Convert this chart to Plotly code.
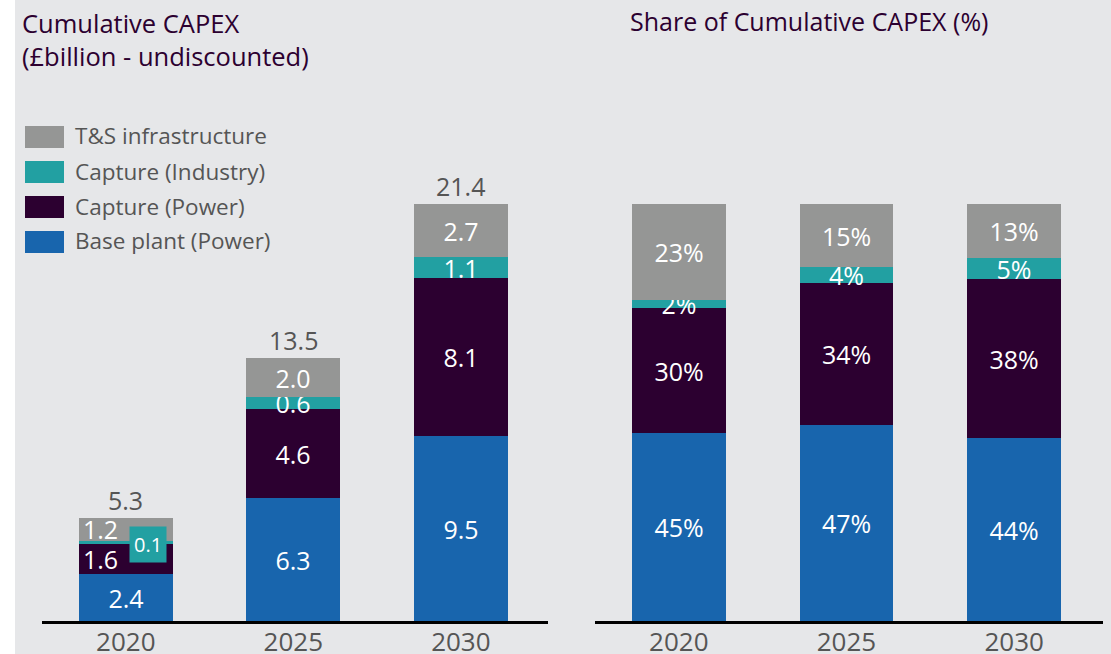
import plotly.graph_objects as go

W, H = 1111, 654

years = ["2020", "2025", "2030"]
series_names = ["Base plant (Power)", "Capture (Power)", "Capture (Industry)", "T&S infrastructure"]
colors = ["#1865ad", "#2c0030", "#22a0a2", "#959695"]

base_plant = [2.4, 6.3, 9.5]
capture_power = [1.6, 4.6, 8.1]
capture_industry = [0.1, 0.6, 1.1]
ts_infra = [1.2, 2.0, 2.7]
totals = [5.3, 13.5, 21.4]

share_base = [45, 47, 44]
share_cap_power = [30, 34, 38]
share_cap_ind = [2, 4, 5]
share_ts = [23, 15, 13]

left_title = "Cumulative CAPEX<br>(£billion - undiscounted)"
right_title = "Share of Cumulative CAPEX (%)"

FONT = "Open Sans"
TEXT_GRAY = "#555555"
TITLE_COL = "#2c0030"
BG = "#e6e7e9"
LBL = 25

abs_series = [base_plant, capture_power, capture_industry, ts_infra]
share_series = [share_base, share_cap_power, share_cap_ind, share_ts]

def px_x(p):
    return p / W

def px_y(p):
    return 1 - p / H

fig = go.Figure()

# Left panel bars
for name, col, vals in zip(series_names, colors, abs_series):
    texts = []
    for i, v in enumerate(vals):
        # 2020 small segments are labelled separately (callout)
        if i == 0 and name in ("Capture (Power)", "Capture (Industry)", "T&S infrastructure"):
            texts.append("")
        else:
            texts.append(f"{v:.1f}")
    fig.add_trace(go.Bar(
        x=years, y=vals, name=name, marker_color=col, marker_line_width=0,
        width=0.56, text=texts, textposition="inside", insidetextanchor="middle",
        textfont=dict(color="white", size=LBL, family=FONT),
        xaxis="x", yaxis="y", showlegend=False, hoverinfo="skip",
        cliponaxis=False,
    ))

# Right panel bars
for name, col, vals in zip(series_names, colors, share_series):
    fig.add_trace(go.Bar(
        x=years, y=vals, name=name, marker_color=col, marker_line_width=0,
        width=0.56, text=[f"{v}%" for v in vals], textposition="inside",
        insidetextanchor="middle",
        textfont=dict(color="white", size=LBL, family=FONT),
        xaxis="x2", yaxis="y2", showlegend=False, hoverinfo="skip",
        cliponaxis=False,
    ))

annotations = []
# totals above left bars (category axis -> serial index)
for i, t in enumerate(totals):
    annotations.append(dict(x=i, y=t, xref="x", yref="y", text=f"{t:.1f}",
                            showarrow=False, yanchor="bottom", yshift=-1,
                            font=dict(size=LBL, color=TEXT_GRAY, family=FONT)))

# 2020 special labels
annotations.append(dict(x=0, y=base_plant[0] + capture_power[0] / 2, xref="x", yref="y",
                        text=f"{capture_power[0]:.1f}", showarrow=False, xshift=-25,
                        font=dict(size=LBL, color="white", family=FONT)))
y_ts_mid = base_plant[0] + capture_power[0] + capture_industry[0] + ts_infra[0] / 2
annotations.append(dict(x=0, y=y_ts_mid, xref="x", yref="y",
                        text=f"{ts_infra[0]:.1f}", showarrow=False, xshift=-25,
                        font=dict(size=LBL, color="white", family=FONT)))
annotations.append(dict(x=0, y=base_plant[0] + capture_power[0], xref="x", yref="y",
                        text=f"{capture_industry[0]:.1f}", showarrow=False, xshift=22, yshift=-1,
                        bgcolor=colors[2], borderpad=4,
                        font=dict(size=20, color="white", family=FONT)))

# titles
annotations.append(dict(x=px_x(20), y=px_y(4), xref="paper", yref="paper", text=left_title,
                        showarrow=False, xanchor="left", yanchor="top", align="left",
                        font=dict(size=25.5, color=TITLE_COL, family=FONT)))
annotations.append(dict(x=px_x(628), y=px_y(2), xref="paper", yref="paper", text=right_title,
                        showarrow=False, xanchor="left", yanchor="top", align="left",
                        font=dict(size=25, color=TITLE_COL, family=FONT)))

shapes = [
    dict(type="rect", xref="paper", yref="paper", x0=0, x1=px_x(15), y0=0, y1=1,
         fillcolor="white", line_width=0, layer="below"),
]

# manual legend (top to bottom: reverse of stacking order)
leg_rows = [137, 172, 207, 242]
for (name, col), yc in zip(list(zip(series_names, colors))[::-1], leg_rows):
    shapes.append(dict(type="rect", xref="paper", yref="paper",
                       x0=px_x(25), x1=px_x(64), y0=px_y(yc + 11), y1=px_y(yc - 11),
                       fillcolor=col, line_width=0))
    annotations.append(dict(x=px_x(73), y=px_y(yc - 1), xref="paper", yref="paper", text=name,
                            showarrow=False, xanchor="left", yanchor="middle",
                            font=dict(size=22.5, color=TEXT_GRAY, family=FONT)))

ydom = [px_y(621), 1]
axis_common = dict(type="category", showline=True, linecolor="black", linewidth=3,
                   showgrid=False, zeroline=False, ticks="", ticklabelstandoff=-4,
                   tickfont=dict(size=26, color=TEXT_GRAY, family=FONT),
                   automargin=False, fixedrange=True)
fig.update_layout(
    width=W, height=H, autosize=False,
    margin=dict(l=0, r=0, t=0, b=0, pad=0),
    paper_bgcolor=BG, plot_bgcolor=BG,
    barmode="stack", bargap=0,
    font=dict(family=FONT),
    xaxis=dict(domain=[px_x(42), px_x(548)], range=[-0.5, 2.52], **axis_common),
    yaxis=dict(domain=ydom, range=[0, 621 / 19.47], visible=False, automargin=False,
               fixedrange=True),
    xaxis2=dict(domain=[px_x(595), px_x(1103)], range=[-0.5, 2.53], anchor="y2",
                **axis_common),
    yaxis2=dict(domain=ydom, range=[0, 621 / 4.17], visible=False, anchor="x2",
                automargin=False, fixedrange=True),
    uniformtext=dict(minsize=20, mode="show"),
    annotations=annotations,
    shapes=shapes,
)

fig.write_html(
    "out.html",
    config={"displayModeBar": False},
    post_script="document.body.style.margin='0';",
)
